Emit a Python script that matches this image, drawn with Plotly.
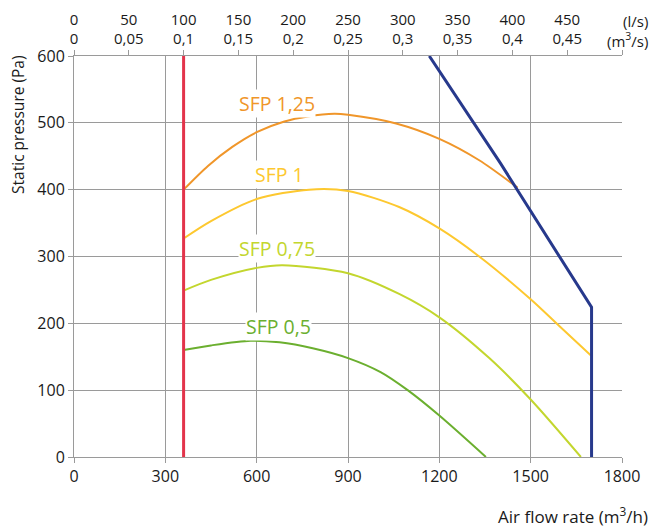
import plotly.graph_objects as go

# SFP curves, air flow (m3/h) vs static pressure (Pa)
sfp125_x = [360, 440, 520, 600, 691, 768, 855, 900, 1058, 1200, 1331, 1457]
sfp125_y = [400, 435.5, 464, 486, 502, 509.5, 513.5, 512, 499, 476, 444, 403]

sfp1_x = [360, 450, 600, 772, 900, 1068, 1200, 1331, 1500, 1594, 1698]
sfp1_y = [327, 353, 386, 400, 398, 374, 342, 300, 236, 196, 152]

sfp075_x = [360, 450, 600, 685, 900, 1068, 1200, 1364, 1500, 1665]
sfp075_y = [249, 265, 283, 287, 275, 244, 209, 148, 86, 0]

sfp05_x = [360, 450, 580, 675, 784, 900, 1007, 1096, 1200, 1353]
sfp05_y = [160, 167, 174, 171.6, 162.7, 148, 127, 100, 62, 0]

min_flow_x = [360, 360]
min_flow_y = [0, 600]

max_x = [1167, 1400, 1700, 1700]
max_y = [600, 440, 224, 0]

curve_labels = ["SFP 1,25", "SFP 1", "SFP 0,75", "SFP 0,5"]
label_x = [668, 675, 668, 673]
label_y = [529, 422, 312, 195]
colors = ["#F0962A", "#FDC82F", "#C3D62E", "#6BAF2F"]

ls_ticks = [0, 50, 100, 150, 200, 250, 300, 350, 400, 450, 500]
m3s_ticks = ["0", "0,05", "0,1", "0,15", "0,2", "0,25", "0,3", "0,35", "0,4", "0,45", ""]

FONT = "Open Sans"
TXT = "#1a1a1a"
GRID = "#9a9a9a"

fig = go.Figure()
curves = [(sfp125_x, sfp125_y), (sfp1_x, sfp1_y), (sfp075_x, sfp075_y), (sfp05_x, sfp05_y)]
for (xs, ys), c in zip(curves, colors):
    fig.add_trace(go.Scatter(x=xs, y=ys, mode="lines",
                             line=dict(color=c, width=2, shape="spline", smoothing=0.8),
                             hoverinfo="skip", showlegend=False))

fig.add_trace(go.Scatter(x=min_flow_x, y=min_flow_y, mode="lines",
                         line=dict(color="#E3344B", width=3), showlegend=False))
fig.add_trace(go.Scatter(x=max_x, y=max_y, mode="lines",
                         line=dict(color="#27398C", width=3), showlegend=False))
# invisible trace so the top axis is drawn
fig.add_trace(go.Scatter(x=[0], y=[0], xaxis="x2", mode="markers",
                         marker=dict(opacity=0), hoverinfo="skip", showlegend=False))

for txt, x, y, c in zip(curve_labels, label_x, label_y, colors):
    fig.add_annotation(x=x, y=y, text=txt, showarrow=False,
                       font=dict(family=FONT, size=19.5, color=c),
                       bgcolor="white", borderpad=0)

top_text = [f"{a}<br>{b}" if b else "" for a, b in zip(ls_ticks, m3s_ticks)]

axis_style = dict(showline=True, linecolor=GRID, linewidth=1,
                  ticks="outside", ticklen=5, tickcolor=GRID,
                  zeroline=False, fixedrange=True, automargin=False,
                  tickfont=dict(family=FONT, size=16, color=TXT))

# page body has an 8px margin, so the figure is 8px smaller and shifted
fig.update_layout(
    width=657, height=523,
    margin=dict(l=66, r=43, t=48, b=74),
    plot_bgcolor="white", paper_bgcolor="white",
    font=dict(family=FONT, size=16, color=TXT),
    xaxis=dict(range=[0, 1800], tickvals=[0, 300, 600, 900, 1200, 1500, 1800],
               showgrid=True, gridcolor=GRID, gridwidth=1, **axis_style),
    xaxis2=dict(range=[0, 1800], overlaying="x", side="top",
                tickvals=[v * 3.6 for v in ls_ticks], ticktext=top_text,
                showgrid=False, **axis_style),
    yaxis=dict(range=[0, 600], tickvals=[0, 100, 200, 300, 400, 500, 600],
               showgrid=True, gridcolor=GRID, gridwidth=1, **axis_style),
)
fig.update_layout(xaxis2_tickfont_size=15)

fig.add_annotation(xref="paper", yref="paper", x=-0.126, y=1.005, textangle=-90,
                   xanchor="left", yanchor="top",
                   text="Static pressure (Pa)", showarrow=False,
                   font=dict(family=FONT, size=15.5, color=TXT))
fig.add_annotation(xref="paper", yref="paper", x=1.051, y=-0.145,
                   xanchor="right", yanchor="middle",
                   text="Air flow rate (m<sup>3</sup>/h)", showarrow=False,
                   font=dict(family=FONT, size=17, color=TXT))
fig.add_annotation(xref="paper", yref="paper", x=1.051, y=1.118,
                   xanchor="right", yanchor="top", align="right",
                   text="(l/s)<br>(m<sup>3</sup>/s)", showarrow=False,
                   font=dict(family=FONT, size=15, color=TXT))

fig.write_html("out.html")
